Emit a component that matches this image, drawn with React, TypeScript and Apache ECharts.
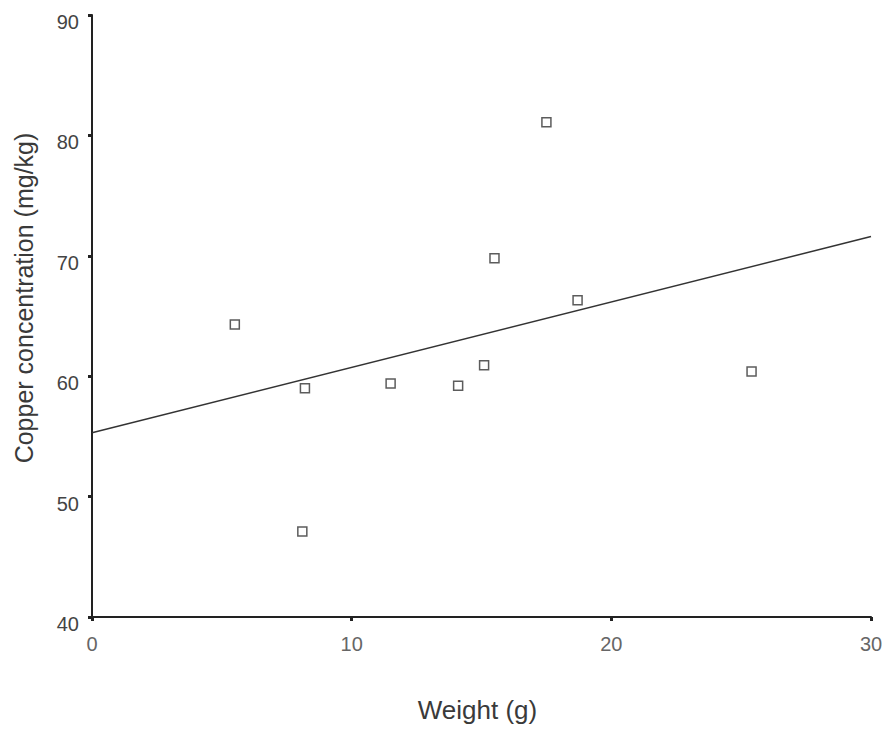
import React, { useEffect, useRef } from "react";
import * as echarts from "echarts";

const weights = [5.5, 8.2, 8.1, 11.5, 14.1, 15.1, 15.5, 17.5, 18.7, 25.4];
const copper = [64.3, 59.0, 47.1, 59.4, 59.2, 60.9, 69.8, 81.1, 66.3, 60.4];
const fitX = [0, 30];
const fitY = [55.3, 71.6];
const xTicks = [0, 10, 20, 30];
const yTicks = [40, 50, 60, 70, 80, 90];

export default function App() {
  const ref = useRef<HTMLDivElement>(null);
  useEffect(() => {
    if (!ref.current) return;
    const chart = echarts.init(ref.current, undefined, { renderer: "svg" });
    const font = "'Liberation Sans', Arial, sans-serif";
    chart.setOption({
      animation: false,
      backgroundColor: "#ffffff",
      grid: { left: 92, right: 17, top: 15, bottom: 115, containLabel: false },
      xAxis: {
        type: "value",
        min: xTicks[0],
        max: xTicks[xTicks.length - 1],
        interval: 10,
        name: "Weight (g)",
        nameLocation: "middle",
        nameGap: 80,
        nameTextStyle: { fontFamily: font, fontSize: 26, color: "#3a3a3a", padding: [0, 8, 0, 0] },
        axisLine: { lineStyle: { color: "#222", width: 2 } },
        axisTick: { show: true, length: 4, lineStyle: { color: "#222", width: 3 } },
        axisLabel: { fontFamily: font, fontSize: 20, color: "#666", margin: 17 },
        splitLine: { show: false },
      },
      yAxis: {
        type: "value",
        min: yTicks[0],
        max: yTicks[yTicks.length - 1],
        interval: 10,
        name: "Copper concentration (mg/kg)",
        nameLocation: "middle",
        nameGap: 56,
        nameTextStyle: { fontFamily: font, fontSize: 25, color: "#3a3a3a", padding: [0, 0, 0, 36] },
        axisLine: { show: true, lineStyle: { color: "#222", width: 2 } },
        axisTick: { show: true, length: 4, lineStyle: { color: "#222", width: 3 } },
        axisLabel: {
          fontFamily: font,
          fontSize: 20,
          color: "#444",
          margin: 13,
          verticalAlign: "top",
          lineHeight: 14,
        },
        splitLine: { show: false },
      },
      series: [
        {
          type: "line",
          data: fitX.map((x, i) => [x, fitY[i]]),
          showSymbol: false,
          lineStyle: { color: "#333", width: 1.5 },
          z: 2,
        },
        {
          type: "scatter",
          data: weights.map((w, i) => [w, copper[i]]),
          symbol: "rect",
          symbolSize: 9,
          itemStyle: { color: "#ffffff", borderColor: "#333", borderWidth: 1.5 },
          z: 3,
        },
      ],
    });
    return () => chart.dispose();
  }, []);
  return (
    <div
      ref={ref}
      style={{ position: "fixed", left: 0, top: 0, width: 888, height: 732 }}
    />
  );
}
